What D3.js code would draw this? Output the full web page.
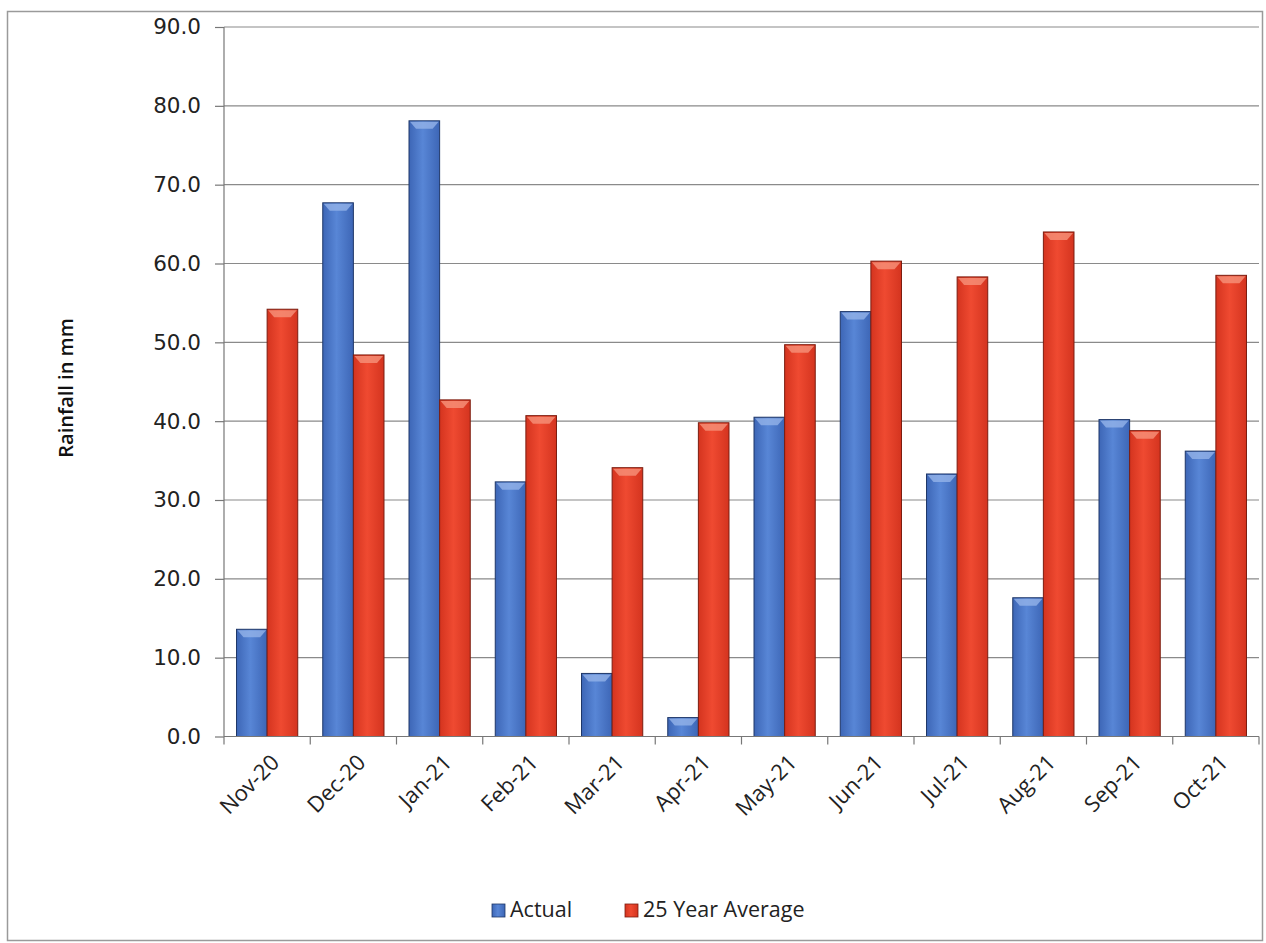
<!DOCTYPE html>
<html>
<head>
<meta charset="utf-8">
<script src="https://cdn.jsdelivr.net/npm/d3@7"></script>
<style>
  body { margin: 0; background: #fff; }
  .axis text { fill: #222; }
</style>
</head>
<body>
<div id="chart"></div>
<script>
// data
let months = ['Nov-20', 'Dec-20', 'Jan-21', 'Feb-21', 'Mar-21', 'Apr-21',
    'May-21', 'Jun-21', 'Jul-21', 'Aug-21', 'Sep-21', 'Oct-21'];
let actual = [13.6, 67.7, 78.1, 32.3, 8.0, 2.4, 40.5, 53.9, 33.3, 17.6, 40.2, 36.2];
let average = [54.2, 48.4, 42.7, 40.7, 34.1, 39.8, 49.7, 60.3, 58.3, 64.0, 38.8, 58.5];
let seriesNames = ['Actual', '25 Year Average'];
let yTicks = [0, 10, 20, 30, 40, 50, 60, 70, 80, 90];

let width = 1266;
let height = 943;

let svg = d3.select('#chart')
    .append('svg')
    .attr('width', width)
    .attr('height', height);

// outer chart frame
svg.append('rect')
    .attr('x', 7.5).attr('y', 11.5)
    .attr('width', 1255).attr('height', 929)
    .attr('fill', '#fff')
    .attr('stroke', '#9a9a9a')
    .attr('stroke-width', 1.5);

let plot = { left: 224, right: 1259, top: 27, bottom: 736.5 };

let xScale = d3.scaleBand()
    .domain(months)
    .range([plot.left, plot.right])
    .padding(0);
let bw = xScale.bandwidth();
let xInner = d3.scaleBand()
    .domain(seriesNames)
    .range([bw * 0.145, bw * 0.855]);

let yScale = d3.scaleLinear()
    .domain([0, 90])
    .range([plot.bottom, plot.top]);

// gridlines
svg.append('g')
    .selectAll('line')
    .data(yTicks.filter(d => d > 0))
    .join('line')
    .attr('x1', plot.left).attr('x2', plot.right)
    .attr('y1', d => yScale(d)).attr('y2', d => yScale(d))
    .attr('stroke', '#8a8a8a')
    .attr('stroke-width', 1.2);

// y axis
let yAxis = d3.axisLeft(yScale)
    .tickValues(yTicks)
    .tickFormat(d3.format('.1f'))
    .tickSize(9)
    .tickPadding(14);
let yAxisGroup = svg.append('g')
    .classed('axis', true)
    .attr('transform', `translate(${plot.left},0)`)
    .call(yAxis);
yAxisGroup.select('.domain').remove();
yAxisGroup.selectAll('line').attr('stroke', '#777').attr('stroke-width', 1.2);
yAxisGroup.selectAll('text')
    .attr('font-family', 'DejaVu Sans, Verdana, sans-serif')
    .attr('font-size', 21.5);
svg.append('line')
    .attr('x1', plot.left).attr('x2', plot.left)
    .attr('y1', plot.top).attr('y2', plot.bottom)
    .attr('stroke', '#777').attr('stroke-width', 1.2);

// gradients + bars
let defs = svg.append('defs');
let palette = {
    'Actual': { edge: '#3d66b6', mid: '#5886d6', stroke: '#1f3768', bevel: '#94b3e8' },
    '25 Year Average': { edge: '#d4341f', mid: '#ef4a31', stroke: '#7c1d10', bevel: '#f6927a' }
};
seriesNames.forEach((s, i) => {
    let g = defs.append('linearGradient')
        .attr('id', 'grad' + i)
        .attr('x1', '0%').attr('x2', '100%').attr('y1', '0%').attr('y2', '0%');
    g.append('stop').attr('offset', '0%').attr('stop-color', palette[s].edge);
    g.append('stop').attr('offset', '45%').attr('stop-color', palette[s].mid);
    g.append('stop').attr('offset', '100%').attr('stop-color', palette[s].edge);
});

let rows = months.map((m, i) => ({ month: m, values: [actual[i], average[i]] }));

let groups = svg.append('g')
    .selectAll('g')
    .data(rows)
    .join('g')
    .attr('transform', d => `translate(${xScale(d.month)},0)`);

let bars = groups.selectAll('g.bar')
    .data(d => d.values.map((v, i) => ({ key: seriesNames[i], idx: i, value: v })))
    .join('g')
    .classed('bar', true);

bars.append('rect')
    .attr('x', d => xInner(d.key))
    .attr('y', d => yScale(d.value))
    .attr('width', xInner.bandwidth())
    .attr('height', d => yScale(0) - yScale(d.value))
    .attr('fill', d => `url(#grad${d.idx})`)
    .attr('stroke', d => palette[d.key].stroke)
    .attr('stroke-width', 1);

// top bevel
bars.append('path')
    .attr('d', d => {
        let x0 = xInner(d.key) + 1, x1 = xInner(d.key) + xInner.bandwidth() - 1;
        let y = yScale(d.value) + 1;
        let h = Math.min(7, (yScale(0) - yScale(d.value)) / 2);
        return `M${x0},${y}L${x1},${y}L${x1 - 6},${y + h}L${x0 + 6},${y + h}Z`;
    })
    .attr('fill', d => palette[d.key].bevel)
    .attr('opacity', 0.8);

// x axis line + boundary ticks
svg.append('line')
    .attr('x1', plot.left).attr('x2', plot.right)
    .attr('y1', plot.bottom).attr('y2', plot.bottom)
    .attr('stroke', '#777').attr('stroke-width', 1.2);
svg.append('g')
    .selectAll('line')
    .data(months.map(m => xScale(m)).concat([plot.right]))
    .join('line')
    .attr('x1', d => d).attr('x2', d => d)
    .attr('y1', plot.bottom).attr('y2', plot.bottom + 8)
    .attr('stroke', '#777').attr('stroke-width', 1.2);

// x labels (rotated)
svg.append('g')
    .classed('axis', true)
    .selectAll('text')
    .data(months)
    .join('text')
    .attr('transform', d => `translate(${xScale(d) + bw / 2 + 8},${plot.bottom + 22}) rotate(-45)`)
    .attr('text-anchor', 'end')
    .attr('dy', '0.35em')
    .attr('font-family', 'Open Sans, sans-serif')
    .attr('font-size', 22)
    .text(d => d);

// y title
svg.append('text')
    .attr('transform', `translate(73,388) rotate(-90)`)
    .attr('text-anchor', 'middle')
    .attr('font-family', 'Open Sans, sans-serif')
    .attr('font-weight', 600)
    .attr('font-size', 20)
    .attr('fill', '#111')
    .text('Rainfall in mm');

// legend
let legendX = [492, 625];
let legend = svg.append('g')
    .selectAll('g')
    .data(seriesNames)
    .join('g')
    .attr('transform', (d, i) => `translate(${legendX[i]},904)`);
legend.append('rect')
    .attr('width', 13).attr('height', 13)
    .attr('fill', (d, i) => `url(#grad${i})`)
    .attr('stroke', d => palette[d].stroke)
    .attr('stroke-width', 0.8);
legend.append('text')
    .attr('x', 18).attr('y', 13)
    .attr('font-family', 'Open Sans, sans-serif')
    .attr('font-size', 21.5)
    .attr('fill', '#222')
    .text(d => d);
</script>
</body>
</html>
